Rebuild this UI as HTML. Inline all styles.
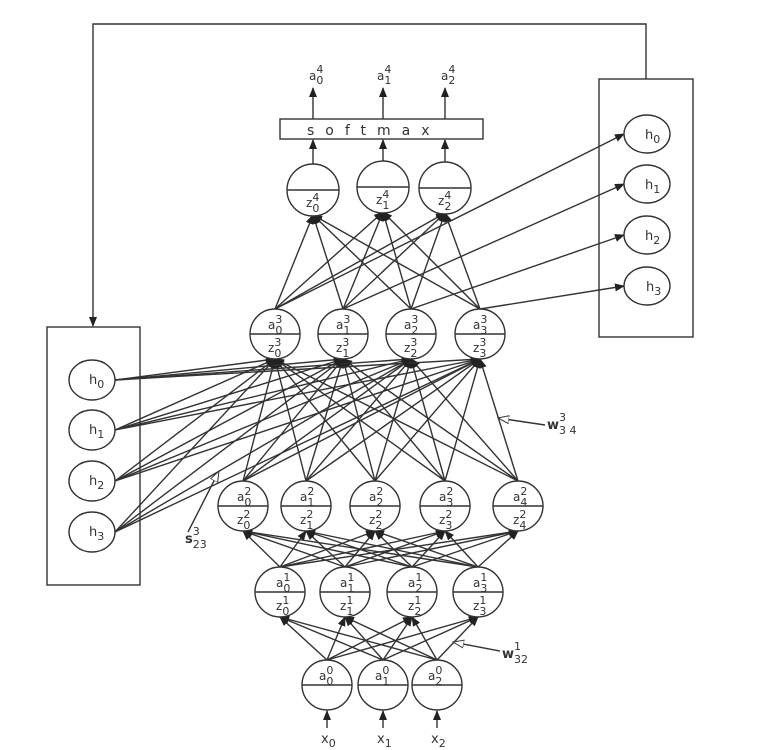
<!DOCTYPE html>
<html><head><meta charset="utf-8">
<style>
html,body{margin:0;padding:0;background:#fff;}
svg{display:block;}
text{font-family:"DejaVu Sans","Liberation Sans",sans-serif;fill:#333;}
</style></head>
<body>
<svg id="s" width="763" height="750" viewBox="0 0 763 750" xmlns="http://www.w3.org/2000/svg">
<defs>
<marker id="ar" markerWidth="10" markerHeight="8" refX="9" refY="4" orient="auto" markerUnits="userSpaceOnUse">
<path d="M0,0 L10,4 L0,8 z" fill="#222"/></marker>
<marker id="oa" markerWidth="12" markerHeight="9" refX="11" refY="4.5" orient="auto" markerUnits="userSpaceOnUse">
<path d="M0,0.5 L11,4.5 L0,8.5 z" fill="#fff" stroke="#333" stroke-width="1"/></marker>
</defs>
<g id="lines" stroke="#333" stroke-width="1.4" fill="none"></g>
<g stroke="#333" stroke-width="1.4" fill="none">
<!-- feedback loop -->
<polyline points="646,79 646,24 93,24 93,326" marker-end="url(#ar)"/>
<rect x="599" y="79" width="94" height="258"/>
<rect x="47" y="327" width="93" height="258"/>
<rect x="280" y="119" width="203" height="20"/>
<!-- softmax arrows -->
<line x1="313" y1="178" x2="313" y2="140" marker-end="url(#ar)"/>
<line x1="383" y1="162" x2="383" y2="140" marker-end="url(#ar)"/>
<line x1="445" y1="162" x2="445" y2="140" marker-end="url(#ar)"/>
<line x1="313" y1="119" x2="313" y2="88" marker-end="url(#ar)"/>
<line x1="383" y1="119" x2="383" y2="88" marker-end="url(#ar)"/>
<line x1="445" y1="119" x2="445" y2="88" marker-end="url(#ar)"/>
<!-- inputs -->
<line x1="327" y1="728" x2="327" y2="711" marker-end="url(#ar)"/>
<line x1="383" y1="728" x2="383" y2="711" marker-end="url(#ar)"/>
<line x1="437" y1="728" x2="437" y2="711" marker-end="url(#ar)"/>
<!-- annotations -->
<line x1="545" y1="425" x2="498" y2="418" marker-end="url(#oa)"/>
<line x1="188" y1="532" x2="219" y2="471" marker-end="url(#oa)"/>
<line x1="500" y1="651" x2="453" y2="642" marker-end="url(#oa)"/>
</g>
<g id="nodes" stroke="#333" stroke-width="1.4" fill="#fff"></g>
<!-- hidden ellipses -->
<g stroke="#333" stroke-width="1.4" fill="#fff">
<ellipse cx="647" cy="134" rx="23" ry="19"/><ellipse cx="647" cy="184" rx="23" ry="19"/>
<ellipse cx="647" cy="235" rx="23" ry="19"/><ellipse cx="647" cy="286" rx="23" ry="19"/>
<ellipse cx="92" cy="380" rx="23" ry="20"/><ellipse cx="92" cy="430" rx="23" ry="20"/>
<ellipse cx="92" cy="481" rx="23" ry="20"/><ellipse cx="92" cy="532" rx="23" ry="20"/>
</g>
<g font-size="13">
<text x="645" y="139">h<tspan font-size="11" dy="4">0</tspan></text>
<text x="645" y="189">h<tspan font-size="11" dy="4">1</tspan></text>
<text x="645" y="240">h<tspan font-size="11" dy="4">2</tspan></text>
<text x="646" y="291">h<tspan font-size="11" dy="4">3</tspan></text>
<text x="89" y="384">h<tspan font-size="11" dy="4">0</tspan></text>
<text x="89" y="434">h<tspan font-size="11" dy="4">1</tspan></text>
<text x="89" y="485">h<tspan font-size="11" dy="4">2</tspan></text>
<text x="89" y="536">h<tspan font-size="11" dy="4">3</tspan></text>
<text x="307" y="135" font-size="14" letter-spacing="11">softmax</text>
<text x="309" y="80" font-size="12">a<tspan font-size="11" dx="0" dy="-7">4</tspan><tspan font-size="11" dx="-7" dy="11">0</tspan></text>
<text x="377" y="80" font-size="12">a<tspan font-size="11" dy="-7">4</tspan><tspan font-size="11" dx="-7" dy="11">1</tspan></text>
<text x="441" y="80" font-size="12">a<tspan font-size="11" dy="-7">4</tspan><tspan font-size="11" dx="-7" dy="11">2</tspan></text>
<text x="321" y="743" font-size="13">x<tspan font-size="11" dy="4">0</tspan></text>
<text x="377" y="743" font-size="13">x<tspan font-size="11" dy="4">1</tspan></text>
<text x="431" y="743" font-size="13">x<tspan font-size="11" dy="4">2</tspan></text>
<text x="547" y="429" font-weight="bold" font-size="13">w<tspan font-weight="normal" font-size="11" dy="-8">3</tspan><tspan font-weight="normal" font-size="11" dx="-7" dy="13">3 4</tspan></text>
<text x="185" y="543" font-weight="bold" font-size="13">s<tspan font-weight="normal" font-size="11" dy="-8">3</tspan><tspan font-weight="normal" font-size="11" dx="-7" dy="13">23</tspan></text>
<text x="502" y="658" font-weight="bold" font-size="13">w<tspan font-weight="normal" font-size="11" dy="-8">1</tspan><tspan font-weight="normal" font-size="11" dx="-7" dy="13">32</tspan></text>
</g>
<g id="labels" font-size="12">
<!-- layer 4 -->
<text x="306" y="207">z<tspan font-size="11" dy="-6">4</tspan><tspan font-size="11" dx="-7" dy="11">0</tspan></text>
<text x="376" y="204">z<tspan font-size="11" dy="-6">4</tspan><tspan font-size="11" dx="-7" dy="11">1</tspan></text>
<text x="438" y="205">z<tspan font-size="11" dy="-6">4</tspan><tspan font-size="11" dx="-7" dy="11">2</tspan></text>
<!-- layer 3 -->
<text x="268" y="329">a<tspan font-size="11" dy="-6">3</tspan><tspan font-size="11" dx="-7" dy="11">0</tspan></text>
<text x="268" y="352">z<tspan font-size="11" dy="-6">3</tspan><tspan font-size="11" dx="-7" dy="11">0</tspan></text>
<text x="336" y="329">a<tspan font-size="11" dy="-6">3</tspan><tspan font-size="11" dx="-7" dy="11">1</tspan></text>
<text x="336" y="352">z<tspan font-size="11" dy="-6">3</tspan><tspan font-size="11" dx="-7" dy="11">1</tspan></text>
<text x="404" y="329">a<tspan font-size="11" dy="-6">3</tspan><tspan font-size="11" dx="-7" dy="11">2</tspan></text>
<text x="404" y="352">z<tspan font-size="11" dy="-6">3</tspan><tspan font-size="11" dx="-7" dy="11">2</tspan></text>
<text x="473" y="329">a<tspan font-size="11" dy="-6">3</tspan><tspan font-size="11" dx="-7" dy="11">3</tspan></text>
<text x="473" y="352">z<tspan font-size="11" dy="-6">3</tspan><tspan font-size="11" dx="-7" dy="11">3</tspan></text>
<!-- layer 2 -->
<text x="237" y="501">a<tspan font-size="11" dy="-6">2</tspan><tspan font-size="11" dx="-7" dy="11">0</tspan></text>
<text x="237" y="524">z<tspan font-size="11" dy="-6">2</tspan><tspan font-size="11" dx="-7" dy="11">0</tspan></text>
<text x="300" y="501">a<tspan font-size="11" dy="-6">2</tspan><tspan font-size="11" dx="-7" dy="11">1</tspan></text>
<text x="300" y="524">z<tspan font-size="11" dy="-6">2</tspan><tspan font-size="11" dx="-7" dy="11">1</tspan></text>
<text x="369" y="501">a<tspan font-size="11" dy="-6">2</tspan><tspan font-size="11" dx="-7" dy="11">2</tspan></text>
<text x="369" y="524">z<tspan font-size="11" dy="-6">2</tspan><tspan font-size="11" dx="-7" dy="11">2</tspan></text>
<text x="439" y="501">a<tspan font-size="11" dy="-6">2</tspan><tspan font-size="11" dx="-7" dy="11">3</tspan></text>
<text x="439" y="524">z<tspan font-size="11" dy="-6">2</tspan><tspan font-size="11" dx="-7" dy="11">3</tspan></text>
<text x="513" y="501">a<tspan font-size="11" dy="-6">2</tspan><tspan font-size="11" dx="-7" dy="11">4</tspan></text>
<text x="513" y="524">z<tspan font-size="11" dy="-6">2</tspan><tspan font-size="11" dx="-7" dy="11">4</tspan></text>
<!-- layer 1 -->
<text x="276" y="587">a<tspan font-size="11" dy="-6">1</tspan><tspan font-size="11" dx="-7" dy="11">0</tspan></text>
<text x="276" y="610">z<tspan font-size="11" dy="-6">1</tspan><tspan font-size="11" dx="-7" dy="11">0</tspan></text>
<text x="340" y="587">a<tspan font-size="11" dy="-6">1</tspan><tspan font-size="11" dx="-7" dy="11">1</tspan></text>
<text x="340" y="610">z<tspan font-size="11" dy="-6">1</tspan><tspan font-size="11" dx="-7" dy="11">1</tspan></text>
<text x="408" y="587">a<tspan font-size="11" dy="-6">1</tspan><tspan font-size="11" dx="-7" dy="11">2</tspan></text>
<text x="408" y="610">z<tspan font-size="11" dy="-6">1</tspan><tspan font-size="11" dx="-7" dy="11">2</tspan></text>
<text x="473" y="587">a<tspan font-size="11" dy="-6">1</tspan><tspan font-size="11" dx="-7" dy="11">3</tspan></text>
<text x="473" y="610">z<tspan font-size="11" dy="-6">1</tspan><tspan font-size="11" dx="-7" dy="11">3</tspan></text>
<!-- layer 0 -->
<text x="319" y="680">a<tspan font-size="11" dy="-6">0</tspan><tspan font-size="11" dx="-7" dy="11">0</tspan></text>
<text x="375" y="680">a<tspan font-size="11" dy="-6">0</tspan><tspan font-size="11" dx="-7" dy="11">1</tspan></text>
<text x="428" y="680">a<tspan font-size="11" dy="-6">0</tspan><tspan font-size="11" dx="-7" dy="11">2</tspan></text>
</g>
<script>
(function(){
var NS="http://www.w3.org/2000/svg";
var R=25;
var L0=[[327,685],[383,685],[437,685]];
var L1=[[280,592],[345,592],[412,592],[478,592]];
var L2=[[243,506],[306,506],[375,506],[445,506],[518,506]];
var L3=[[275,334],[343,334],[411,334],[480,334]];
var L4=[[313,190],[383,187],[445,188]];
var LH=[[115,380],[115,430],[115,481],[115,532]];
var RH=[[624,134],[624,184],[624,235],[624,286]];
var g=document.getElementById('lines'), n=document.getElementById('nodes');
function ln(x1,y1,x2,y2,arrow){var l=document.createElementNS(NS,'line');
l.setAttribute('x1',x1);l.setAttribute('y1',y1);l.setAttribute('x2',x2);l.setAttribute('y2',y2);
if(arrow)l.setAttribute('marker-end','url(#ar)');g.appendChild(l);}
function conn(A,B){A.forEach(function(a){B.forEach(function(b){ln(a[0],a[1]-R,b[0],b[1]+R,true);});});}
conn(L0,L1);conn(L1,L2);conn(L2,L3);conn(L3,L4);
LH.forEach(function(a){L3.forEach(function(b){ln(a[0],a[1],b[0],b[1]+R,true);});});
L3.forEach(function(a,i){ln(a[0],a[1]-R,RH[i][0],RH[i][1],true);});
function circ(c,r){var e=document.createElementNS(NS,'circle');e.setAttribute('cx',c[0]);e.setAttribute('cy',c[1]);e.setAttribute('r',r||R);n.appendChild(e);
var l=document.createElementNS(NS,'line');l.setAttribute('x1',c[0]-(r||R));l.setAttribute('x2',c[0]+(r||R));l.setAttribute('y1',c[1]);l.setAttribute('y2',c[1]);n.appendChild(l);}
[L0,L1,L2,L3].forEach(function(L){L.forEach(function(c){circ(c);});});
L4.forEach(function(c){circ(c,26);});
// softmax inner arrow through first node
ln(313,178,313,165,false);
})();
</script>
</svg>
</body></html>
